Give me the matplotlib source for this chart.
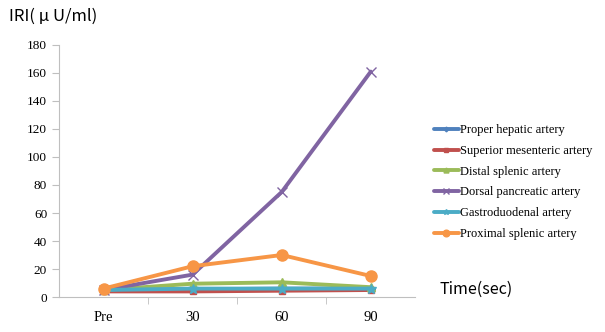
import matplotlib
matplotlib.use('Agg')
import matplotlib.pyplot as plt

plt.rcParams['font.family'] = ['Liberation Serif', 'DejaVu Serif']

categories = ['Pre', '30', '60', '90']
series_names = ['Proper hepatic artery', 'Superior mesenteric artery',
                'Distal splenic artery', 'Dorsal pancreatic artery',
                'Gastroduodenal artery', 'Proximal splenic artery']
proper_hepatic = [5, 5.5, 6, 6]
superior_mesenteric = [4, 4, 4.5, 5]
distal_splenic = [5, 9.5, 10.5, 7]
dorsal_pancreatic = [5, 16, 75, 161]
gastroduodenal = [5, 6, 6, 6]
proximal_splenic = [6, 22, 30, 15]

values = [proper_hepatic, superior_mesenteric, distal_splenic,
          dorsal_pancreatic, gastroduodenal, proximal_splenic]
colors = ['#4F81BD', '#C0504D', '#9BBB59', '#8064A2', '#4BACC6', '#F79646']
markers = ['D', 's', '^', 'x', '*', 'o']
msizes = [4, 5, 6, 7, 7, 8]

fig = plt.figure(figsize=(6.05, 3.32), dpi=100)
ax = fig.add_axes([0.0975, 0.1054, 0.589, 0.7591])

x = range(len(categories))
for name, vals, c, m, ms in zip(series_names, values, colors, markers, msizes):
    ax.plot(x, vals, color=c, marker=m, markersize=ms, linewidth=2.8,
            markeredgecolor=c, label=name, solid_capstyle='round')

ax.set_xlim(-0.5, 3.5)
ax.set_ylim(0, 180)
ax.set_yticks(range(0, 181, 20))
ax.set_xticks(x)
ax.set_xticklabels(categories, fontsize=10.5)
ax.set_xticks([0.5, 1.5, 2.5], minor=True)
ax.tick_params(axis='x', which='major', length=0, pad=10)
ax.tick_params(axis='x', which='minor', length=5, color='#BFBFBF')
ax.tick_params(axis='y', length=5, color='#BFBFBF', labelsize=9.5)
for s in ['top', 'right']:
    ax.spines[s].set_visible(False)
ax.spines['left'].set_color('#BFBFBF')
ax.spines['bottom'].set_color('#BFBFBF')

fig.text(0.015, 0.952, 'IRI( μ U/ml)', fontsize=12, va='center',
         family=['Noto Sans CJK JP', 'DejaVu Sans'])
fig.text(0.727, 0.13, 'Time(sec)', fontsize=11.5, va='center',
         family=['Noto Sans CJK JP', 'DejaVu Sans'])

fig.legend(loc='upper left', bbox_to_anchor=(0.698, 0.66), frameon=False,
           fontsize=9, handlelength=2.0, handletextpad=0.1, labelspacing=0.7,
           markerscale=0.6)

plt.savefig('out.png')
